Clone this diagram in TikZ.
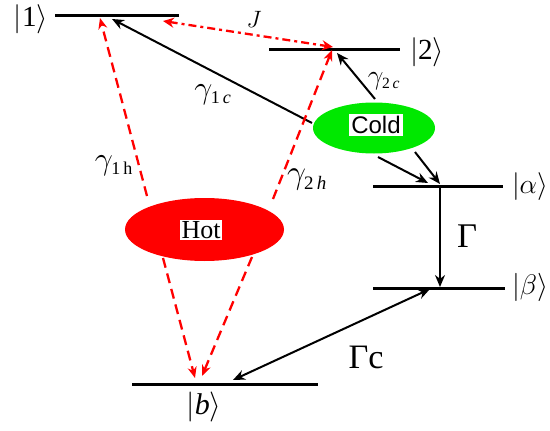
\RequirePackage{fix-cm}
\documentclass[tikz,border=0pt]{standalone}
\usepackage[no-math]{fontspec}
\usepackage{graphicx}
\setmainfont{Liberation Serif}
\newfontfamily\arialfont{Liberation Sans}
\usetikzlibrary{arrows.meta,shapes.geometric}
\definecolor{coldgreen}{RGB}{0,232,0}
\newcommand{\subs}[1]{\mbox{\fontsize{14}{16}\selectfont #1}}
\newcommand{\wbox}[2]{\resizebox{#1}{!}{\Huge #2}}
\tikzset{
  level/.style={line width=3pt},
  arr/.style={line width=2pt,-{Stealth[length=12pt,width=10pt]}},
  dblarr/.style={line width=2pt,{Stealth[length=12pt,width=10pt]}-{Stealth[length=12pt,width=10pt]}},
  hotarr/.style={red,line width=2.3pt,dash pattern=on 10pt off 6pt,-{Stealth[length=11pt,width=9pt]}},
  jarr/.style={red,line width=2.3pt,dash pattern=on 8pt off 4pt on 3pt off 4pt,{Stealth[length=11pt,width=10pt]}-{Stealth[length=11pt,width=10pt]}},
  lbl/.style={inner sep=0pt},
  bath/.style={ellipse,draw=none,inner sep=0pt}
}
\begin{document}
\begin{tikzpicture}[x=1pt,y=-1pt]
\useasboundingbox (0,0) rectangle (550,431);
% energy levels
\coordinate (l1a) at (55,15);   \coordinate (l1b) at (179,15);
\coordinate (l2a) at (269,49);  \coordinate (l2b) at (400,49);
\coordinate (laa) at (373,186); \coordinate (lab) at (503,186);
\coordinate (lba) at (373,288); \coordinate (lbb) at (505,288);
\coordinate (lga) at (132,384); \coordinate (lgb) at (318,384);
\draw[level] (l1a) -- (l1b);
\draw[level] (l2a) -- (l2b);
\draw[level] (laa) -- (lab);
\draw[level] (lba) -- (lbb);
\draw[level] (lga) -- (lgb);
% ket labels
\node[lbl] (k1) at (31,19) {\wbox{34pt}{$|\mbox{1}\rangle$}};
\node[lbl] (k2) at (427,52) {\wbox{34pt}{$|\mbox{2}\rangle$}};
\node[lbl] (ka) at (530,187) {\wbox{36pt}{$|\alpha\rangle$}};
\node[lbl] (kb) at (530,287) {\wbox{36pt}{$|\beta\rangle$}};
\node[lbl] (kg) at (204,407) {\wbox{35pt}{$|\mbox{\itshape b}\rangle$}};
% baths
\node[bath,fill=coldgreen,minimum width=122pt,minimum height=51pt] (cold) at (374,128) {};
\node[fill=white,inner xsep=2.5pt,inner ysep=2pt,font=\arialfont\fontsize{24}{26}\selectfont] (coldtxt) at (376,125) {Cold};
\node[bath,fill=red,minimum width=159pt,minimum height=63pt] (hot) at (204.5,229.5) {};
\node[fill=white,inner xsep=1.5pt,inner ysep=1.5pt,font=\fontsize{26}{28}\selectfont] (hottxt) at (201,230) {Hot};
% arrow end points
\coordinate (c1s) at (312,123); \coordinate (c1e) at (112,19);
\coordinate (js) at (163,21);   \coordinate (je) at (333,47);
\coordinate (h1s) at (147,196); \coordinate (h1e) at (100,18);
\coordinate (h2s) at (273,199); \coordinate (h2e) at (332,50);
\coordinate (hb1s) at (163,258); \coordinate (hb1e) at (195,378);
\coordinate (hb2s) at (252,257); \coordinate (hb2e) at (202,376);
\coordinate (c2s) at (375,99);  \coordinate (c2e) at (337,53);
\coordinate (ca1s) at (378,157); \coordinate (ca1e) at (428,183);
\coordinate (ca2s) at (415,152); \coordinate (ca2e) at (440,184);
\coordinate (gs) at (440,186);  \coordinate (ge) at (440,287);
\coordinate (gcs) at (233,380); \coordinate (gce) at (430,289);
% connectors
\draw[arr] (c1s) -- (c1e);
\draw[jarr] (js) -- (je);
\draw[hotarr] (h1s) -- (h1e);
\draw[hotarr] (h2s) -- (h2e);
\draw[hotarr] (hb1s) -- (hb1e);
\draw[hotarr] (hb2s) -- (hb2e);
\draw[arr] (c2s) -- (c2e);
\draw[arr] (ca1s) -- (ca1e);
\draw[arr] (ca2s) -- (ca2e);
\draw[arr] (gs) -- (ge);
\draw[dblarr] (gcs) -- (gce);
% rate labels
\node[lbl] (lJ) at (254,19) {\wbox{15pt}{$J$}};
\node[lbl] (lg1c) at (213,95) {\wbox{37pt}{$\gamma_{\subs{1\,\itshape c}}$}};
\node[lbl] (lg2c) at (384,81) {\wbox{32pt}{$\gamma_{\subs{2\,\itshape c}}$}};
\node[lbl] (lg1h) at (114,166) {\wbox{38pt}{$\gamma_{\subs{1\,h}}$}};
\node[lbl] (lg2h) at (307,180) {\wbox{40pt}{$\gamma_{\subs{2\,\itshape h}}$}};
\node[lbl] (lG) at (467,236) {\wbox{20pt}{Γ}};
\node[lbl] (lGc) at (366,357) {\wbox{35pt}{Γc}};
\end{tikzpicture}
\end{document}
